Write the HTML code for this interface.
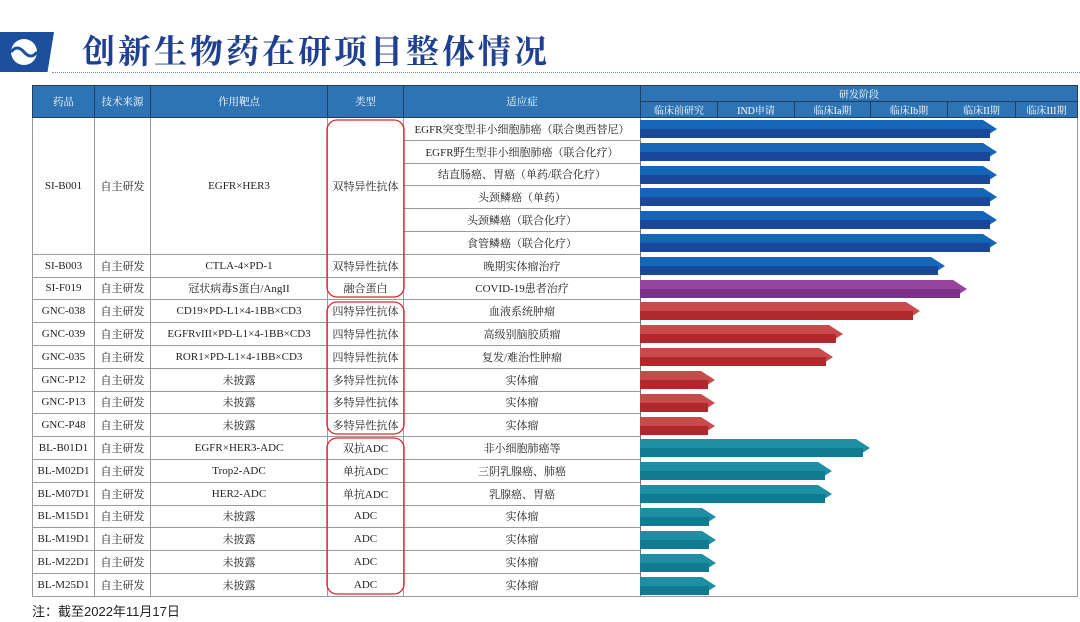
<!DOCTYPE html>
<html><head><meta charset="utf-8">
<style>
body{margin:0;width:1080px;height:622px;overflow:hidden;background:#fff;font-family:"Liberation Serif","Noto Serif CJK SC",serif;position:relative}
.logo{position:absolute;left:0;top:32px;width:0;height:0;border-top:40px solid #1c4f9c;border-right:8px solid transparent}
.logob{position:absolute;left:0;top:32px;width:54px;height:40px;background:#1c4f9c;clip-path:polygon(0 0,100% 0,88% 100%,0 100%)}
.title{position:absolute;left:82px;top:26px;font-size:33px;color:#1f3f8f;font-family:"Noto Serif CJK SC",serif;font-weight:bold;letter-spacing:3px}
.dot{position:absolute;left:52px;right:0;top:72px;border-top:1px dotted #7a8fc0}
table{position:absolute;left:32px;top:85px;border-collapse:collapse;table-layout:fixed;font-size:11px;color:#222}
td,th{padding:0;text-align:center;white-space:nowrap;overflow:hidden}
th{background:#2e74b5;color:#fff;font-weight:normal;border:1px solid #1d3f66;height:31px;font-size:10.5px}
th.s{height:15px;font-size:10px}
td{border:1px solid #9a9a9a;height:21.8px}
td.n{border-left:none;border-right:1px solid #777}
.svg{position:absolute;left:0;top:0}
.note{position:absolute;left:32px;top:601px;font-size:13px;color:#222;font-family:"Liberation Sans","Noto Sans CJK SC",sans-serif}
</style></head><body>
<div class="logob"></div>
<svg class="svg" width="1080" height="622" style="z-index:0">
<circle cx="24" cy="52" r="13" fill="#fff"/><path d="M11 52 Q17 44 24 52 T37 52" stroke="#1c4f9c" stroke-width="3" fill="none"/>
</svg>
<div class="title">创新生物药在研项目整体情况</div>
<div class="dot"></div>
<table>
<colgroup><col style="width:62px"><col style="width:56px"><col style="width:177px"><col style="width:76px"><col style="width:237px"><col style="width:77px"><col style="width:77px"><col style="width:76px"><col style="width:77px"><col style="width:68px"><col style="width:62px"></colgroup>
<tr><th rowspan="2">药品</th><th rowspan="2">技术来源</th><th rowspan="2">作用靶点</th><th rowspan="2">类型</th><th rowspan="2">适应症</th><th colspan="6" class="s">研发阶段</th></tr>
<tr><th class="s">临床前研究</th><th class="s">IND申请</th><th class="s">临床Ia期</th><th class="s">临床Ib期</th><th class="s">临床II期</th><th class="s">临床III期</th></tr>
<tr><td rowspan="6">SI-B001</td><td rowspan="6">自主研发</td><td rowspan="6">EGFR×HER3</td><td rowspan="6">双特异性抗体</td><td>EGFR突变型非小细胞肺癌（联合奥西替尼）</td><td colspan="6" rowspan="22" style="border-left:1px solid #777;border-right:1px solid #999;border-bottom:1px solid #999"></td></tr>
<tr><td>EGFR野生型非小细胞肺癌（联合化疗）</td></tr>
<tr><td>结直肠癌、胃癌（单药/联合化疗）</td></tr>
<tr><td>头颈鳞癌（单药）</td></tr>
<tr><td>头颈鳞癌（联合化疗）</td></tr>
<tr><td>食管鳞癌（联合化疗）</td></tr>
<tr><td>SI-B003</td><td>自主研发</td><td>CTLA-4×PD-1</td><td>双特异性抗体</td><td>晚期实体瘤治疗</td></tr>
<tr><td>SI-F019</td><td>自主研发</td><td>冠状病毒S蛋白/AngII</td><td>融合蛋白</td><td>COVID-19患者治疗</td></tr>
<tr><td>GNC-038</td><td>自主研发</td><td>CD19×PD-L1×4-1BB×CD3</td><td>四特异性抗体</td><td>血液系统肿瘤</td></tr>
<tr><td>GNC-039</td><td>自主研发</td><td>EGFRvIII×PD-L1×4-1BB×CD3</td><td>四特异性抗体</td><td>高级别脑胶质瘤</td></tr>
<tr><td>GNC-035</td><td>自主研发</td><td>ROR1×PD-L1×4-1BB×CD3</td><td>四特异性抗体</td><td>复发/难治性肿瘤</td></tr>
<tr><td>GNC-P12</td><td>自主研发</td><td>未披露</td><td>多特异性抗体</td><td>实体瘤</td></tr>
<tr><td>GNC-P13</td><td>自主研发</td><td>未披露</td><td>多特异性抗体</td><td>实体瘤</td></tr>
<tr><td>GNC-P48</td><td>自主研发</td><td>未披露</td><td>多特异性抗体</td><td>实体瘤</td></tr>
<tr><td>BL-B01D1</td><td>自主研发</td><td>EGFR×HER3-ADC</td><td>双抗ADC</td><td>非小细胞肺癌等</td></tr>
<tr><td>BL-M02D1</td><td>自主研发</td><td>Trop2-ADC</td><td>单抗ADC</td><td>三阴乳腺癌、肺癌</td></tr>
<tr><td>BL-M07D1</td><td>自主研发</td><td>HER2-ADC</td><td>单抗ADC</td><td>乳腺癌、胃癌</td></tr>
<tr><td>BL-M15D1</td><td>自主研发</td><td>未披露</td><td>ADC</td><td>实体瘤</td></tr>
<tr><td>BL-M19D1</td><td>自主研发</td><td>未披露</td><td>ADC</td><td>实体瘤</td></tr>
<tr><td>BL-M22D1</td><td>自主研发</td><td>未披露</td><td>ADC</td><td>实体瘤</td></tr>
<tr><td>BL-M25D1</td><td>自主研发</td><td>未披露</td><td>ADC</td><td>实体瘤</td></tr>
</table>
<svg class="svg" width="1080" height="622">
<defs>
<g id="b"></g>
</defs>
<g id="bars">
<!-- blue -->
<g fill="#1565b8">
<polygon points="640,120 983,120 997,129 983,138 640,138"/>
<polygon points="640,143 983,143 997,152 983,161 640,161"/>
<polygon points="640,166 983,166 997,175 983,184 640,184"/>
<polygon points="640,188 983,188 997,197 983,206 640,206"/>
<polygon points="640,211 983,211 997,220 983,229 640,229"/>
<polygon points="640,234 983,234 997,243 983,252 640,252"/>
<polygon points="640,257 931,257 945,266 931,275 640,275"/>
</g>
<g fill="#1a4797">
<rect x="640" y="129" width="350" height="9"/><rect x="640" y="152" width="350" height="9"/><rect x="640" y="175" width="350" height="9"/><rect x="640" y="197" width="350" height="9"/><rect x="640" y="220" width="350" height="9"/><rect x="640" y="243" width="350" height="9"/><rect x="640" y="266" width="298" height="9"/>
</g>
<polygon fill="#97449f" points="640,280 953,280 967,289 953,298 640,298"/>
<rect fill="#7b3187" x="640" y="289" width="320" height="9"/>
<g fill="#c94a4a">
<polygon points="640,302 906,302 920,311 906,320 640,320"/>
<polygon points="640,325 829,325 843,334 829,343 640,343"/>
<polygon points="640,348 819,348 833,357 819,366 640,366"/>
<polygon points="640,371 701,371 715,380 701,389 640,389"/>
<polygon points="640,394 701,394 715,403 701,412 640,412"/>
<polygon points="640,417 701,417 715,426 701,435 640,435"/>
</g>
<g fill="#b0282c">
<rect x="640" y="311" width="273" height="9"/><rect x="640" y="334" width="196" height="9"/><rect x="640" y="357" width="186" height="9"/><rect x="640" y="380" width="68" height="9"/><rect x="640" y="403" width="68" height="9"/><rect x="640" y="426" width="68" height="9"/>
</g>
<g fill="#1d8fa5">
<polygon points="640,439 856,439 870,448 856,457 640,457"/>
<polygon points="640,462 818,462 832,471 818,480 640,480"/>
<polygon points="640,485 818,485 832,494 818,503 640,503"/>
<polygon points="640,508 702,508 716,517 702,526 640,526"/>
<polygon points="640,531 702,531 716,540 702,549 640,549"/>
<polygon points="640,554 702,554 716,563 702,572 640,572"/>
<polygon points="640,577 702,577 716,586 702,595 640,595"/>
</g>
<g fill="#0f7a92">
<rect x="640" y="448" width="223" height="9"/><rect x="640" y="471" width="185" height="9"/><rect x="640" y="494" width="185" height="9"/><rect x="640" y="517" width="69" height="9"/><rect x="640" y="540" width="69" height="9"/><rect x="640" y="563" width="69" height="9"/><rect x="640" y="586" width="69" height="9"/>
</g>
</g>
<g fill="none" stroke="#e0242a" stroke-width="1.3">
<rect x="327" y="120" width="77" height="177" rx="10"/>
<rect x="327" y="302" width="77" height="132" rx="10"/>
<rect x="327" y="438" width="77" height="156" rx="10"/>
</g>
</svg>
<div class="note">注：截至2022年11月17日</div>
</body></html>
